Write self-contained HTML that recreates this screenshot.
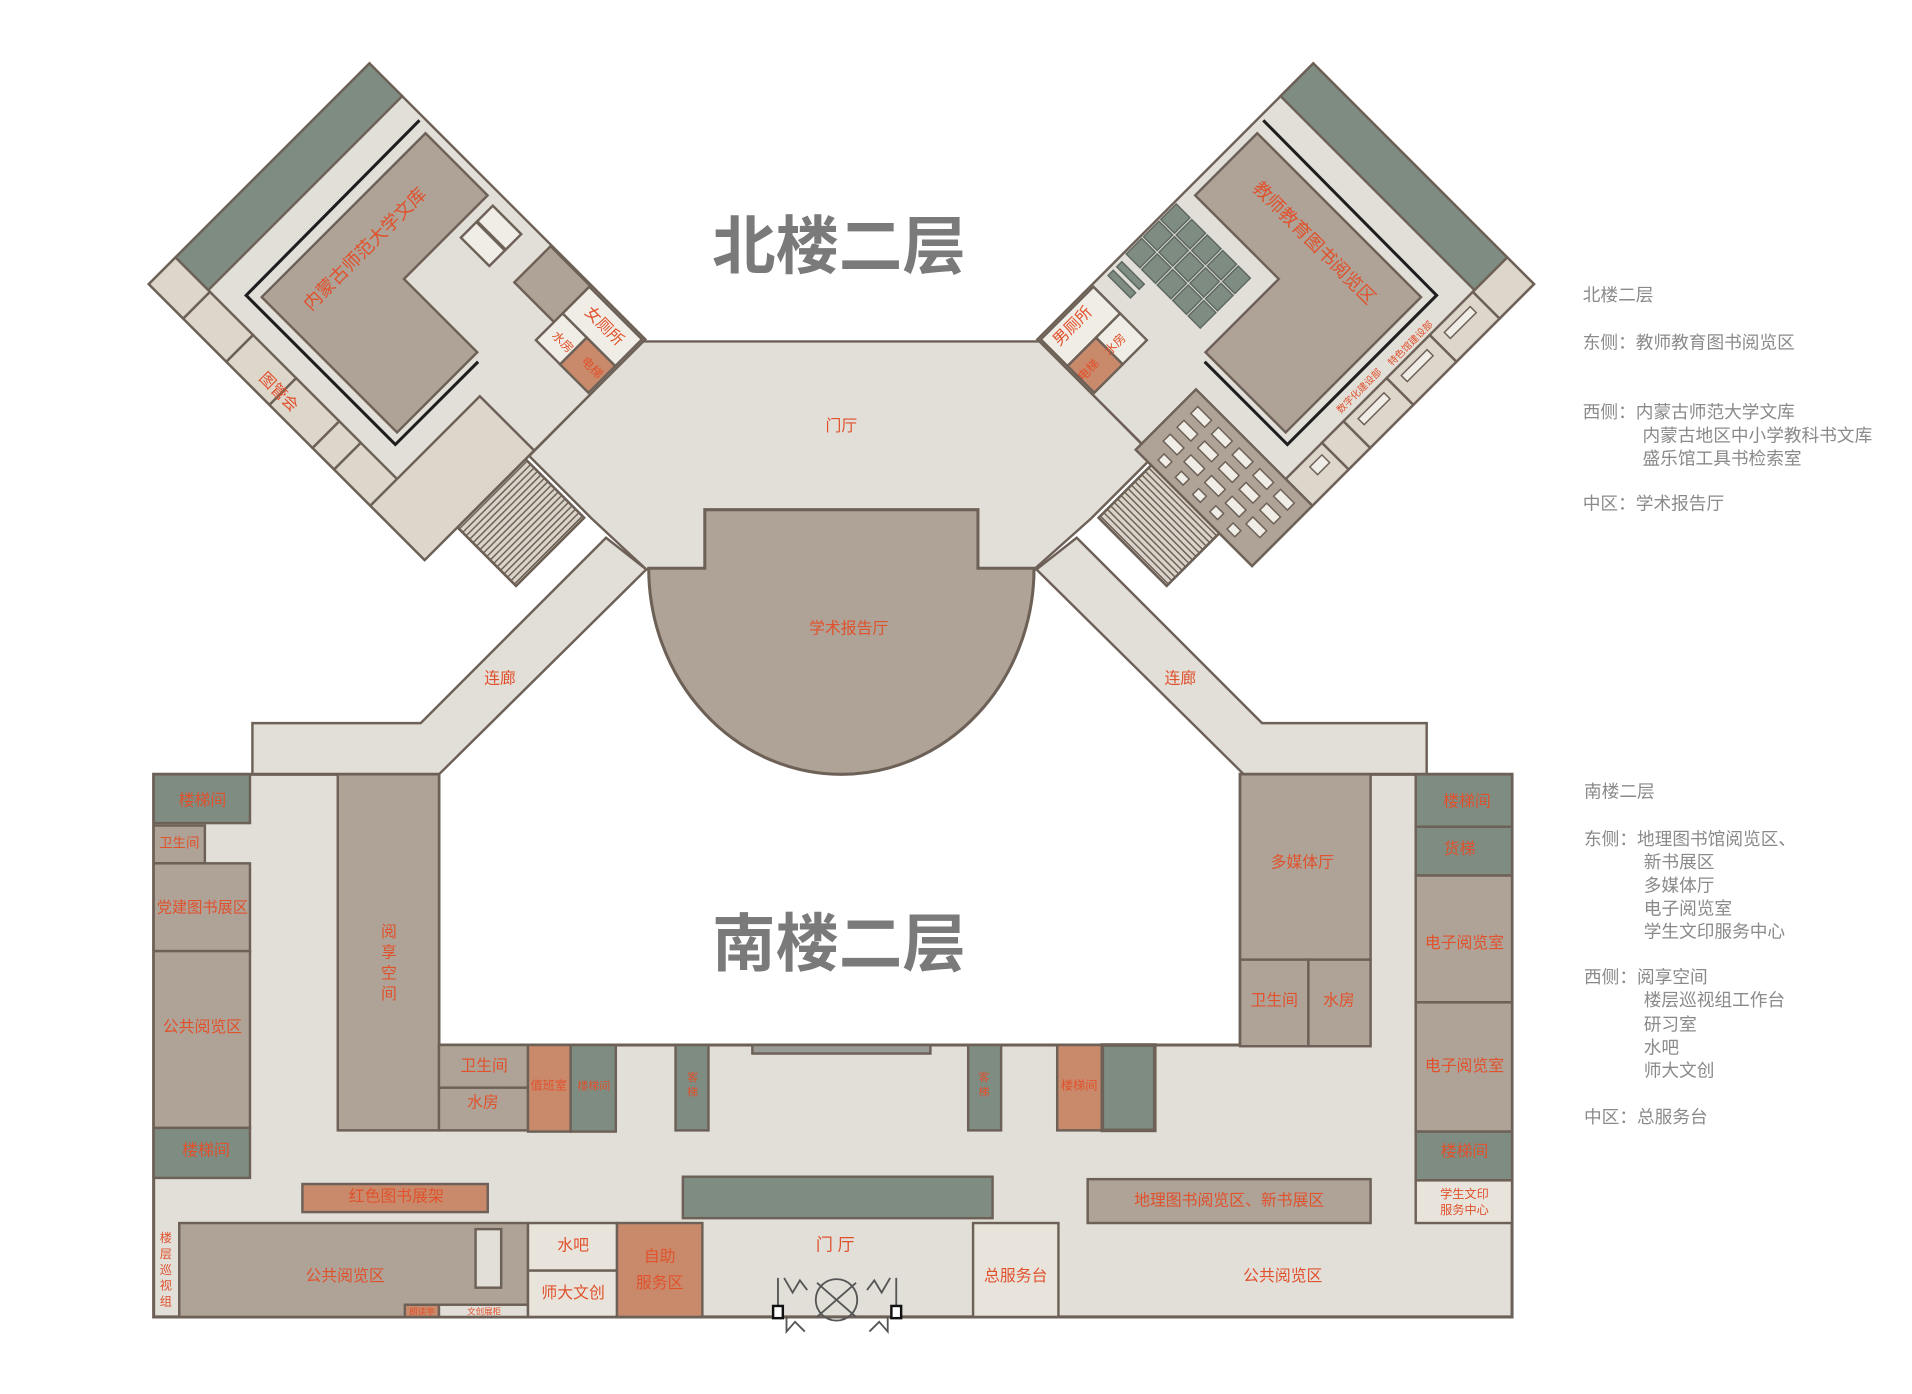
<!DOCTYPE html>
<html><head><meta charset="utf-8"><style>
html,body{margin:0;padding:0;background:#fff;}
svg{display:block;}
text{font-family:"Liberation Sans","Noto Sans CJK SC",sans-serif;}
.r{fill:#e0512c;text-anchor:middle;dominant-baseline:middle;}
.lg{fill:#8a8a8a;font-size:14.5px;}
</style></head><body>
<svg width="1912" height="1394" viewBox="0 0 1568 1143.2" xmlns="http://www.w3.org/2000/svg">
<defs>
<g id="shell" stroke="#6d6157" stroke-width="2">
  <rect x="0" y="0" width="320" height="256" fill="#e2dfd9"/>
  <rect x="0" y="0" width="38" height="225" fill="#7e8c82"/>
  <rect x="0" y="225" width="40" height="31" fill="#ddd6cb"/>
  <rect x="40" y="225" width="50" height="31" fill="#ddd6cb"/>
  <rect x="90" y="225" width="50" height="31" fill="#ddd6cb"/>
  <rect x="140" y="225" width="50" height="31" fill="#ddd6cb"/>
  <rect x="190" y="225" width="25" height="31" fill="#ddd6cb"/>
  <rect x="215" y="225" width="42" height="31" fill="#ddd6cb"/>
  <polygon points="73,8 145,8 145,105 230,105 230,198 73,198" fill="#afa397"/>
  <polyline points="62,4 63,206 236,206 236,110" fill="none" stroke="#1e1e1e" stroke-width="2.5"/>
  <rect x="320" y="139" width="68" height="79" fill="#d9d3ca"/>
  <g stroke="#6d6157" stroke-width="1.2">
    <path d="M322,140V218M326,140V218M330,140V218M334,140V218M338,140V218M342,140V218M346,140V218M350,140V218M354,140V218M358,140V218M362,140V218M366,140V218M370,140V218M374,140V218M378,140V218M382,140V218M386,140V218"/>
  </g>
  <rect x="320" y="139" width="68" height="79" fill="none"/>
</g>
</defs>

<polygon points="527,280 853,280 946,374 895,425 848,467 530,467 485,425 434,374" fill="#e2dfd9" stroke="#6d6157" stroke-width="2"/>
<polygon points="497,441 530,467 360,635 207,635 207,593 345,593" fill="#e2dfd9" stroke="#6d6157" stroke-width="2"/>
<polygon points="883,441 850,467 1020,635 1170,635 1170,593 1035,593" fill="#e2dfd9" stroke="#6d6157" stroke-width="2"/>

<g transform="translate(303,52) rotate(45)">
  <use href="#shell"/>
  <g stroke="#6d6157" stroke-width="2">
    <rect x="257" y="129" width="63" height="127" fill="#ddd6cb"/>
    <rect x="154" y="11" width="33" height="18" fill="#f0ede6"/>
    <rect x="154" y="30" width="33" height="18" fill="#f0ede6"/>
    <rect x="211" y="1" width="46" height="42" fill="#afa397"/>
    <rect x="257" y="2" width="61" height="31" fill="#f0ede6"/>
    <rect x="257" y="33" width="28" height="31" fill="#f0ede6"/>
    <rect x="285" y="33" width="33" height="31" fill="#c98a6c"/>
  </g>
</g>
<g transform="translate(1380,0) scale(-1,1) translate(303,52) rotate(45)">
  <use href="#shell"/>
  <g stroke="#6d6157" stroke-width="2">
    <rect x="257" y="121" width="70" height="135" fill="#afa397"/>
    <rect x="257" y="2" width="61" height="31" fill="#f0ede6"/>
    <rect x="257" y="33" width="28" height="31" fill="#f0ede6"/>
    <rect x="285" y="33" width="33" height="31" fill="#c98a6c"/>
  </g>
  <g fill="#7e8c82" stroke="#5d6860" stroke-width="1.2">
    <rect x="161" y="2" width="18" height="16"/><rect x="181" y="2" width="18" height="16"/><rect x="201" y="2" width="18" height="16"/>
    <rect x="161" y="20" width="18" height="16"/><rect x="181" y="20" width="18" height="16"/><rect x="201" y="20" width="18" height="16"/>
    <rect x="161" y="38" width="18" height="16"/><rect x="181" y="38" width="18" height="16"/><rect x="201" y="38" width="18" height="16"/>
    <rect x="161" y="56" width="18" height="16"/><rect x="181" y="56" width="18" height="16"/><rect x="201" y="56" width="18" height="16"/>
    <rect x="161" y="74" width="18" height="14"/><rect x="181" y="74" width="18" height="14"/><rect x="201" y="74" width="18" height="14"/>
    <rect x="226" y="4" width="6" height="26"/><rect x="236" y="4" width="6" height="26"/>
  </g>
  <g fill="#f0ede6" stroke="#6d6157" stroke-width="1.2">
    <rect x="266" y="132" width="8" height="16"/><rect x="266" y="156" width="8" height="16"/><rect x="266" y="180" width="8" height="16"/><rect x="266" y="204" width="8" height="16"/><rect x="266" y="228" width="8" height="16"/>
    <rect x="282" y="132" width="8" height="16"/><rect x="282" y="156" width="8" height="16"/><rect x="282" y="180" width="8" height="16"/><rect x="282" y="204" width="8" height="16"/><rect x="282" y="228" width="8" height="16"/>
    <rect x="298" y="132" width="8" height="16"/><rect x="298" y="156" width="8" height="16"/><rect x="298" y="180" width="8" height="16"/><rect x="298" y="204" width="8" height="16"/><rect x="298" y="228" width="8" height="16"/>
    <rect x="313" y="140" width="7" height="9"/><rect x="313" y="160" width="7" height="9"/><rect x="313" y="180" width="7" height="9"/><rect x="313" y="200" width="7" height="9"/><rect x="313" y="220" width="7" height="9"/>
    <rect x="100" y="232" width="30" height="7"/><rect x="150" y="232" width="30" height="7"/><rect x="50" y="232" width="30" height="7"/><rect x="222" y="232" width="14" height="9"/>
  </g>
</g>

<path d="M532,466 L578,466 L578,418 L802,418 L802,466 L848,466 A158,169 0 0 1 532,466 Z" fill="#afa397" stroke="#6d6157" stroke-width="2.5"/>

<polygon points="126,635 360,635 360,857 1017,857 1017,635 1240,635 1240,1080 126,1080" fill="#e2dfd9" stroke="#6d6157" stroke-width="2.5"/>
<g stroke="#6d6157" stroke-width="2">
  <rect x="126" y="635" width="79" height="40" fill="#7e8c82"/>
  <rect x="126" y="677" width="42" height="31" fill="#afa397"/>
  <rect x="126" y="708" width="79" height="72" fill="#afa397"/>
  <rect x="126" y="780" width="79" height="145" fill="#afa397"/>
  <rect x="126" y="925" width="79" height="41" fill="#7e8c82"/>
  <rect x="277" y="635" width="83" height="292" fill="#afa397"/>
  <rect x="360" y="857" width="73" height="35" fill="#afa397"/>
  <rect x="360" y="892" width="73" height="35" fill="#afa397"/>
  <rect x="433" y="857" width="35" height="71" fill="#c98a6c"/>
  <rect x="468" y="857" width="37" height="71" fill="#7e8c82"/>
  <rect x="554" y="857" width="27" height="70" fill="#7e8c82"/>
  <rect x="617" y="857" width="146" height="7" fill="#9a9a96"/>
  <rect x="794" y="857" width="27" height="70" fill="#7e8c82"/>
  <rect x="867" y="857" width="37" height="70" fill="#c98a6c"/>
  <rect x="904" y="857" width="43" height="70" fill="#7e8c82" stroke-width="3"/>
  <rect x="248" y="971" width="152" height="23" fill="#c98a6c"/>
  <rect x="560" y="965" width="254" height="34" fill="#7e8c82"/>
  <rect x="892" y="967" width="232" height="36" fill="#afa397"/>
  <rect x="147" y="1003" width="286" height="77" fill="#afa397"/>
  <rect x="390" y="1008" width="21" height="48" fill="#e2dfd9"/>
  <rect x="332" y="1070" width="28" height="10" fill="#c98a6c"/>
  <rect x="360" y="1070" width="73" height="10" fill="#e2dfd9"/>
  <rect x="433" y="1003" width="73" height="39" fill="#e8e4dc"/>
  <rect x="433" y="1042" width="73" height="38" fill="#e8e4dc"/>
  <rect x="506" y="1003" width="70" height="77" fill="#c98a6c"/>
  <rect x="798" y="1003" width="70" height="77" fill="#e8e4dc"/>
  <rect x="1017" y="635" width="107" height="152" fill="#afa397"/>
  <rect x="1017" y="787" width="56" height="71" fill="#afa397"/>
  <rect x="1073" y="787" width="51" height="71" fill="#afa397"/>
  <rect x="1161" y="635" width="79" height="43" fill="#7e8c82"/>
  <rect x="1161" y="678" width="79" height="40" fill="#7e8c82"/>
  <rect x="1161" y="718" width="79" height="104" fill="#afa397"/>
  <rect x="1161" y="822" width="79" height="106" fill="#afa397"/>
  <rect x="1161" y="928" width="79" height="40" fill="#7e8c82"/>
  <rect x="1161" y="968" width="79" height="35" fill="#e8e4dc"/>
</g>
<g stroke="#555" stroke-width="1.5" fill="none">
  <circle cx="686" cy="1066" r="17"/>
  <path d="M670,1052 L702,1080 M702,1052 L670,1080"/>
  <path d="M638,1076 V1048 M643,1048 L650,1060 L656,1050 L662,1058 M735,1076 V1048 M730,1048 L723,1060 L717,1050 L711,1058 M645,1080 V1092 L652,1084 L660,1092 M728,1080 V1092 L721,1084 L713,1092"/>
</g>
<rect x="634" y="1071" width="8" height="10" fill="#fff" stroke="#111" stroke-width="2"/>
<rect x="731" y="1071" width="8" height="10" fill="#fff" stroke="#111" stroke-width="2"/>

<text x="688" y="220" text-anchor="middle" font-size="52" font-weight="bold" fill="#7a7a7a">北楼二层</text>
<text x="688" y="792" text-anchor="middle" font-size="52" font-weight="bold" fill="#7a7a7a">南楼二层</text>

<text class="r" x="690" y="350" font-size="13">门厅</text>
<text class="r" x="696" y="516" font-size="13">学术报告厅</text>
<text class="r" x="410" y="557" font-size="13">连廊</text>
<text class="r" x="968" y="557" font-size="13">连廊</text>
<text class="r" font-size="15" transform="translate(300,205) rotate(-45)">内蒙古师范大学文库</text>
<text class="r" font-size="15" transform="translate(1077,200) rotate(45)">教师教育图书阅览区</text>
<text class="r" font-size="13" transform="translate(228,322) rotate(45)">图管会</text>
<text class="r" font-size="13" transform="translate(495,268) rotate(45)">女厕所</text>
<text class="r" font-size="10" transform="translate(461,281) rotate(45)">水房</text>
<text class="r" font-size="10" transform="translate(485,302) rotate(45)">电梯</text>
<text class="r" font-size="13" transform="translate(880,268) rotate(-45)">男厕所</text>
<text class="r" font-size="10" transform="translate(915,283) rotate(-45)">水房</text>
<text class="r" font-size="10" transform="translate(893,304) rotate(-45)">电梯</text>
<text class="r" font-size="8" transform="translate(1115,321) rotate(-45)">数字化建设部</text>
<text class="r" font-size="8" transform="translate(1157,282) rotate(-45)">特色馆建设部</text>

<g>
<text class="r" x="166" y="657" font-size="13">楼梯间</text>
<text class="r" x="147" y="692" font-size="11">卫生间</text>
<text class="r" x="166" y="745" font-size="12.5">党建图书展区</text>
<text class="r" x="166" y="843" font-size="13">公共阅览区</text>
<text class="r" x="169" y="944" font-size="13">楼梯间</text>
<text class="r" x="319" y="765" font-size="13">阅</text>
<text class="r" x="319" y="782" font-size="13">享</text>
<text class="r" x="319" y="799" font-size="13">空</text>
<text class="r" x="319" y="816" font-size="13">间</text>
<text class="r" x="397" y="875" font-size="13">卫生间</text>
<text class="r" x="396" y="905" font-size="13">水房</text>
<text class="r" x="450" y="891" font-size="10">值班室</text>
<text class="r" x="487" y="891" font-size="9">楼梯间</text>
<text class="r" x="568" y="884" font-size="9">客</text>
<text class="r" x="568" y="896" font-size="9">梯</text>
<text class="r" x="807" y="884" font-size="9">客</text>
<text class="r" x="807" y="896" font-size="9">梯</text>
<text class="r" x="885" y="891" font-size="10">楼梯间</text>
<text class="r" x="325" y="982" font-size="13">红色图书展架</text>
<text class="r" x="1008" y="985" font-size="13">地理图书阅览区、新书展区</text>
<text class="r" x="136" y="1016" font-size="10">楼</text>
<text class="r" x="136" y="1029" font-size="10">层</text>
<text class="r" x="136" y="1042" font-size="10">巡</text>
<text class="r" x="136" y="1055" font-size="10">视</text>
<text class="r" x="136" y="1068" font-size="10">组</text>
<text class="r" x="283" y="1047" font-size="13">公共阅览区</text>
<text class="r" x="346" y="1076" font-size="7">朗读亭</text>
<text class="r" x="397" y="1076" font-size="7">文创展柜</text>
<text class="r" x="470" y="1022" font-size="13">水吧</text>
<text class="r" x="470" y="1061" font-size="13">师大文创</text>
<text class="r" x="541" y="1031" font-size="13">自助</text>
<text class="r" x="541" y="1053" font-size="13">服务区</text>
<text class="r" x="685" y="1022" font-size="14">门 厅</text>
<text class="r" x="833" y="1047" font-size="13">总服务台</text>
<text class="r" x="1052" y="1047" font-size="13">公共阅览区</text>
<text class="r" x="1068" y="708" font-size="13">多媒体厅</text>
<text class="r" x="1045" y="821" font-size="13">卫生间</text>
<text class="r" x="1098" y="821" font-size="13">水房</text>
<text class="r" x="1203" y="658" font-size="13">楼梯间</text>
<text class="r" x="1197" y="697" font-size="13">货梯</text>
<text class="r" x="1201" y="774" font-size="13">电子阅览室</text>
<text class="r" x="1201" y="875" font-size="13">电子阅览室</text>
<text class="r" x="1201" y="945" font-size="13">楼梯间</text>
<text class="r" x="1201" y="980" font-size="10">学生文印</text>
<text class="r" x="1201" y="993" font-size="10">服务中心</text>
</g>

<g class="lg">
<text x="1298" y="247">北楼二层</text>
<text x="1298" y="286">东侧：教师教育图书阅览区</text>
<text x="1298" y="343">西侧：内蒙古师范大学文库</text>
<text x="1347" y="362">内蒙古地区中小学教科书文库</text>
<text x="1347" y="381">盛乐馆工具书检索室</text>
<text x="1298" y="418">中区：学术报告厅</text>
<text x="1299" y="654">南楼二层</text>
<text x="1299" y="693">东侧：地理图书馆阅览区、</text>
<text x="1348" y="712">新书展区</text>
<text x="1348" y="731">多媒体厅</text>
<text x="1348" y="750">电子阅览室</text>
<text x="1348" y="769">学生文印服务中心</text>
<text x="1299" y="806">西侧：阅享空间</text>
<text x="1348" y="825">楼层巡视组工作台</text>
<text x="1348" y="845">研习室</text>
<text x="1348" y="864">水吧</text>
<text x="1348" y="883">师大文创</text>
<text x="1299" y="921">中区：总服务台</text>
</g>
</svg>
</body></html>
